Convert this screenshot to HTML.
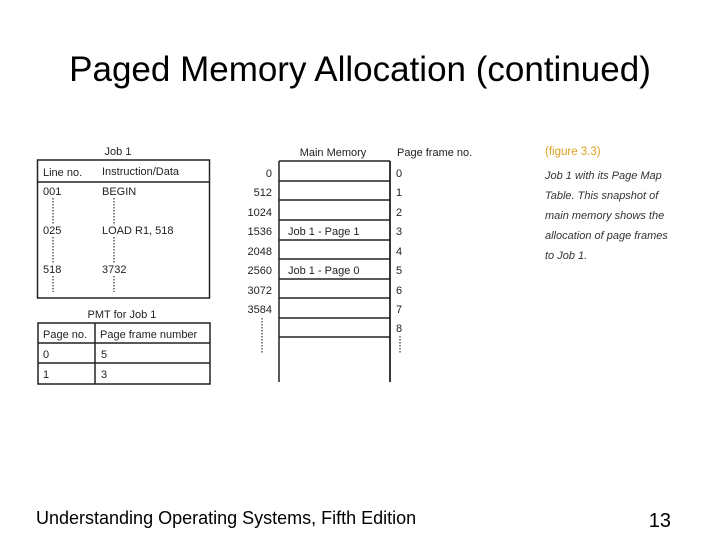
<!DOCTYPE html>
<html><head><meta charset="utf-8"><style>
html,body{margin:0;padding:0;background:#fff;}
svg{display:block;font-family:"Liberation Sans",Arial,sans-serif;}
</style></head><body>
<svg width="720" height="540" viewBox="0 0 720 540" xmlns="http://www.w3.org/2000/svg">
<text x="360" y="81" font-size="35" text-anchor="middle" fill="#000">Paged Memory Allocation (continued)</text>

<!-- Job 1 table -->
<g font-size="11" fill="#222">
<text x="118" y="155" text-anchor="middle">Job 1</text>
<rect x="37.5" y="160" width="172" height="138" fill="none" stroke="#222" stroke-width="1.5"/>
<line x1="37" y1="182" x2="210" y2="182" stroke="#222" stroke-width="1.5"/>
<text x="43" y="176">Line no.</text>
<text x="102" y="175">Instruction/Data</text>
<text x="43" y="195">001</text>
<text x="102" y="195">BEGIN</text>
<text x="43" y="234">025</text>
<text x="102" y="234">LOAD R1, 518</text>
<text x="43" y="273">518</text>
<text x="102" y="273">3732</text>
<g stroke="#333" stroke-width="1.2" stroke-dasharray="1.5,1.5">
<line x1="53" y1="198" x2="53" y2="224"/><line x1="53" y1="237" x2="53" y2="263"/><line x1="53" y1="276" x2="53" y2="292"/>
<line x1="114" y1="198" x2="114" y2="224"/><line x1="114" y1="237" x2="114" y2="263"/><line x1="114" y1="276" x2="114" y2="292"/>
</g>

<!-- PMT -->
<text x="122" y="318" text-anchor="middle">PMT for Job 1</text>
<rect x="38" y="323" width="172" height="61" fill="none" stroke="#222" stroke-width="1.5"/>
<line x1="38" y1="343" x2="210" y2="343" stroke="#222" stroke-width="1.5"/>
<line x1="38" y1="363" x2="210" y2="363" stroke="#222" stroke-width="1.5"/>
<line x1="95" y1="323" x2="95" y2="384" stroke="#222" stroke-width="1.5"/>
<text x="43" y="338">Page no.</text>
<text x="100" y="338">Page frame number</text>
<text x="43" y="358">0</text><text x="101" y="358">5</text>
<text x="43" y="378">1</text><text x="101" y="378">3</text>

<!-- Main memory -->
<text x="333" y="156" text-anchor="middle">Main Memory</text>
<text x="397" y="156">Page frame no.</text>
<line x1="279" y1="161" x2="279" y2="382" stroke="#222" stroke-width="1.5"/>
<line x1="390" y1="161" x2="390" y2="382" stroke="#222" stroke-width="1.8"/>
<g stroke="#222" stroke-width="1.5">
<line x1="279" y1="161" x2="390" y2="161"/>
<line x1="279" y1="181" x2="390" y2="181"/>
<line x1="279" y1="200" x2="390" y2="200"/>
<line x1="279" y1="220" x2="390" y2="220"/>
<line x1="279" y1="240" x2="390" y2="240"/>
<line x1="279" y1="259" x2="390" y2="259"/>
<line x1="279" y1="279" x2="390" y2="279"/>
<line x1="279" y1="298" x2="390" y2="298"/>
<line x1="279" y1="318" x2="390" y2="318"/>
<line x1="279" y1="337" x2="390" y2="337"/>
</g>
<g text-anchor="end">
<text x="272" y="177">0</text>
<text x="272" y="196">512</text>
<text x="272" y="216">1024</text>
<text x="272" y="235">1536</text>
<text x="272" y="255">2048</text>
<text x="272" y="274">2560</text>
<text x="272" y="294">3072</text>
<text x="272" y="313">3584</text>
</g>
<text x="288" y="235">Job 1 - Page 1</text>
<text x="288" y="274">Job 1 - Page 0</text>
<text x="396" y="177">0</text>
<text x="396" y="196">1</text>
<text x="396" y="216">2</text>
<text x="396" y="235">3</text>
<text x="396" y="255">4</text>
<text x="396" y="274">5</text>
<text x="396" y="294">6</text>
<text x="396" y="313">7</text>
<text x="396" y="332">8</text>
<g stroke="#333" stroke-width="1.2" stroke-dasharray="1.5,1.5">
<line x1="262" y1="318" x2="262" y2="354"/>
<line x1="400" y1="336" x2="400" y2="354"/>
</g>
</g>

<!-- caption -->
<text x="545" y="155" font-size="11.5" fill="#e0a020">(figure 3.3)</text>
<g font-size="11" font-style="italic" fill="#333">
<text x="545" y="179">Job 1 with its Page Map</text>
<text x="545" y="199">Table. This snapshot of</text>
<text x="545" y="219">main memory shows the</text>
<text x="545" y="239">allocation of page frames</text>
<text x="545" y="259">to Job 1.</text>
</g>

<text x="36" y="524" font-size="18" fill="#000">Understanding Operating Systems, Fifth Edition</text>
<text x="671" y="527" font-size="20" fill="#000" text-anchor="end">13</text>
</svg>
</body></html>
